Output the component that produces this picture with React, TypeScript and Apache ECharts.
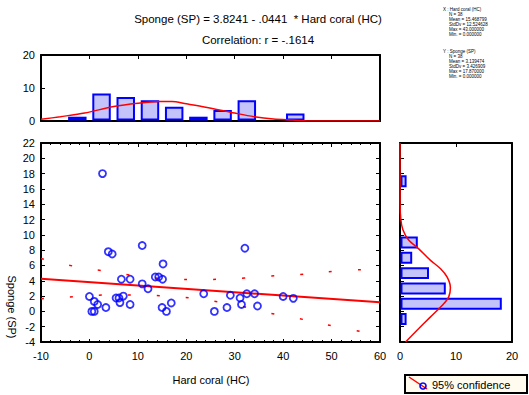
import { useEffect, useRef } from 'react';
import * as echarts from 'echarts';

const FONT = '"Liberation Sans", Arial, sans-serif';

// Scatter data: Hard coral (HC) vs Sponge (SP)
const hcValues = [2.7, 3.9, 4.7, 10.9, 15.2, 13.6, 14.3, 15.1, 6.6, 8.4, 10.9, 12.1, 0.0, 1.0, 1.7, 5.5, 6.1, 7.0, 6.3, 8.4, 3.4, 0.5, 1.0, 15.0, 15.9, 16.9, 23.6, 32.1, 25.8, 28.4, 29.1, 31.1, 31.4, 32.5, 34.1, 34.7, 40.0, 42.1];
const spValues = [18.0, 7.8, 7.5, 8.6, 6.2, 4.5, 4.5, 4.2, 4.2, 4.2, 3.6, 2.95, 1.95, 1.3, 0.9, 1.75, 1.75, 2.0, 1.15, 0.9, 0.5, 0.0, 0.0, 0.5, 0.0, 1.1, 2.3, 8.25, 0.0, 0.5, 2.1, 1.75, 0.9, 2.3, 2.3, 0.7, 1.95, 1.7];

// Regression line endpoints (Sponge = 3.8241 - .0441 * Hard coral)
const regX = [-10, 60];
const regY = [4.265, 1.178];

// 95% confidence band
const bandX = [-10, -8, -2, 4, 10, 16, 21, 27, 32, 37, 43, 49, 60];
const upperBand = [6.9, 6.6, 5.75, 5.2, 4.6, 4.25, 4.15, 4.2, 4.35, 4.6, 4.8, 5.15, 5.6];
const lowerBand = [1.65, 1.76, 1.95, 2.15, 2.15, 2.0, 1.75, 1.2, 0.6, -0.2, -0.9, -1.75, -3.1];

// Top histogram (Hard coral)
const hcBinStart = [-5, 0, 5, 10, 15, 20, 25, 30, 40];
const hcBinCount = [1, 8, 7, 6, 4, 1, 3, 6, 2];
const hcBinWidth = 5;
const hcCurveX = [-10, -6, -1, 5, 10, 14.5, 17, 20, 24, 30, 34, 38, 42, 46, 60];
const hcCurveY = [0.5, 1.3, 2.4, 4.4, 5.4, 5.9, 5.9, 5.2, 4.2, 2.4, 1.3, 0.6, 0.3, 0.0, 0.0];

// Right histogram (Sponge)
const spBinStart = [-2, 0, 2, 4, 6, 8, 16];
const spBinCount = [1, 18, 8, 5, 2, 3, 1];
const spBinWidth = 2;
const spCurveY = [-4, -2.5, -0.75, 1.0, 1.9, 3.1, 4.5, 5.6, 6.7, 8.2, 9.35, 10.7, 12, 14, 22];
const spCurveCount = [1.0, 3.0, 5.4, 7.8, 8.7, 9.0, 8.4, 7.2, 5.4, 3.3, 1.5, 0.5, 0.15, 0.02, 0.0];

const titleLine1 = 'Sponge (SP) = 3.8241 - .0441  * Hard coral (HC)';
const titleLine2 = 'Correlation: r = -.1614';
const xName = 'Hard coral (HC)';
const yName = 'Sponge (SP)';
const legendText = '95% confidence';
const statsX = ['X : Hard coral (HC)', 'N = 38', 'Mean = 15.468799', 'StdDv = 12.524628', 'Max = 43.000000', 'Min. = 0.000000'];
const statsY = ['Y : Sponge (SP)', 'N = 38', 'Mean = 3.139474', 'StdDv = 3.426909', 'Max = 17.870000', 'Min. = 0.000000'];

const BLUE = '#0000ff';
const RED = '#ff0000';
const BAR_FILL = '#c4c4fa';

function axis(extra: any) {
  return {
    type: 'value',
    splitLine: { show: false },
    axisLine: { show: true, onZero: false, lineStyle: { color: '#000', width: 2 } },
    axisTick: { show: true, inside: true, length: 4, lineStyle: { color: '#000', width: 1 } },
    axisLabel: { show: false },
    ...extra,
  };
}

const labelStyle = { show: true, fontFamily: FONT, fontSize: 11, color: '#000' };

export default function App() {
  const ref = useRef<HTMLDivElement>(null);
  useEffect(() => {
    if (!ref.current) return;
    const chart = echarts.init(ref.current, undefined, { renderer: 'svg' });

    const scatterData = hcValues.map((x, i) => [x, spValues[i]]);
    const regData = regX.map((x, i) => [x, regY[i]]);
    const upperData = bandX.map((x, i) => [x, upperBand[i]]);
    const lowerData = bandX.map((x, i) => [x, lowerBand[i]]);
    const hcHist = hcBinStart.map((s, i) => [s, s + hcBinWidth, hcBinCount[i]]);
    const hcCurve = hcCurveX.map((x, i) => [x, hcCurveY[i]]);
    const spHist = spBinStart.map((s, i) => [s, s + spBinWidth, spBinCount[i]]);
    const spCurve = spCurveY.map((y, i) => [spCurveCount[i], y]);

    const statsGraphics: any[] = [];
    const lineYs = [9, 14.2, 19.4, 24.5, 29.6, 34.7];
    statsX.forEach((t, i) => {
      statsGraphics.push({ type: 'text', x: i === 0 ? 443 : 449, y: lineYs[i], style: { text: t, fontFamily: FONT, fontSize: 4.5, fill: '#000', textVerticalAlign: 'middle' } });
    });
    statsY.forEach((t, i) => {
      statsGraphics.push({ type: 'text', x: i === 0 ? 443 : 449, y: lineYs[i] + 42, style: { text: t, fontFamily: FONT, fontSize: 4.5, fill: '#000', textVerticalAlign: 'middle' } });
    });

    const option: any = {
      animation: false,
      backgroundColor: '#fff',
      grid: [
        { left: 41, top: 143, width: 339, height: 199 },
        { left: 41, top: 55, width: 339, height: 66 },
        { left: 400, top: 143, width: 112, height: 199 },
      ],
      xAxis: [
        axis({ gridIndex: 0, position: 'bottom', min: -10, max: 60, interval: 10, axisLabel: { ...labelStyle, margin: 8 }, axisTick: { show: true, inside: true, length: 3, lineStyle: { color: '#000' } }, minorTick: { show: true, splitNumber: 5, length: 2, lineStyle: { color: '#000' } } }),
        axis({ gridIndex: 0, position: 'top', min: -10, max: 60, interval: 10, minorTick: { show: true, splitNumber: 5, length: 2, lineStyle: { color: '#000' } } }),
        axis({ gridIndex: 1, position: 'bottom', min: -10, max: 60, interval: 10, axisTick: { show: false } }),
        axis({ gridIndex: 1, position: 'top', min: -10, max: 60, interval: 10 }),
        axis({ gridIndex: 2, position: 'bottom', min: 0, max: 20, interval: 10, axisLabel: { ...labelStyle, margin: 8 }, axisTick: { show: false } }),
        axis({ gridIndex: 2, position: 'top', min: 0, max: 20, interval: 10 }),
      ],
      yAxis: [
        axis({ gridIndex: 0, position: 'left', min: -4, max: 22, interval: 2, axisLabel: { ...labelStyle, margin: 6 } }),
        axis({ gridIndex: 0, position: 'right', min: -4, max: 22, interval: 2 }),
        axis({ gridIndex: 1, position: 'left', min: 0, max: 20, interval: 10, axisLabel: { ...labelStyle, margin: 6 } }),
        axis({ gridIndex: 1, position: 'right', min: 0, max: 20, interval: 10, axisTick: { show: false } }),
        axis({ gridIndex: 2, position: 'left', min: -4, max: 22, interval: 2 }),
        axis({ gridIndex: 2, position: 'right', min: -4, max: 22, interval: 2, axisTick: { show: false } }),
      ],
      series: [
        {
          type: 'custom',
          xAxisIndex: 2,
          yAxisIndex: 2,
          clip: true,
          encode: { x: [0, 1], y: 2 },
          data: hcHist,
          renderItem: (params: any, api: any) => {
            const lo = api.value(0);
            const hi = api.value(1);
            const c = api.value(2);
            const p1 = api.coord([lo + 0.8, c]);
            const p2 = api.coord([hi - 0.8, 0]);
            return {
              type: 'rect',
              shape: { x: p1[0], y: p1[1], width: p2[0] - p1[0], height: Math.max(0.5, p2[1] - p1[1] - 1.5) },
              style: { fill: BAR_FILL, stroke: BLUE, lineWidth: 2 },
            };
          },
          z: 2,
        },
        {
          type: 'line',
          xAxisIndex: 2,
          yAxisIndex: 2,
          data: hcCurve,
          smooth: 0.3,
          symbol: 'none',
          lineStyle: { color: RED, width: 1.5 },
          z: 3,
        },
        {
          type: 'custom',
          xAxisIndex: 4,
          yAxisIndex: 4,
          clip: true,
          encode: { x: 2, y: [0, 1] },
          data: spHist,
          renderItem: (params: any, api: any) => {
            const lo = api.value(0);
            const hi = api.value(1);
            const c = api.value(2);
            const p1 = api.coord([0, hi - 0.35]);
            const p2 = api.coord([c, lo + 0.35]);
            return {
              type: 'rect',
              shape: { x: p1[0] + 1.5, y: p1[1], width: p2[0] - p1[0] - 1.5, height: p2[1] - p1[1] },
              style: { fill: BAR_FILL, stroke: BLUE, lineWidth: 2 },
            };
          },
          z: 2,
        },
        {
          type: 'line',
          xAxisIndex: 4,
          yAxisIndex: 4,
          data: spCurve,
          smooth: 0.3,
          symbol: 'none',
          lineStyle: { color: RED, width: 1.5 },
          z: 3,
        },
        {
          type: 'line',
          xAxisIndex: 0,
          yAxisIndex: 0,
          data: regData,
          symbol: 'none',
          lineStyle: { color: RED, width: 2 },
          z: 2,
        },
        {
          type: 'line',
          xAxisIndex: 0,
          yAxisIndex: 0,
          data: upperData,
          smooth: 0.4,
          symbol: 'none',
          lineStyle: { color: RED, width: 1.5, type: [3, 26] },
          z: 2,
        },
        {
          type: 'line',
          xAxisIndex: 0,
          yAxisIndex: 0,
          data: lowerData,
          smooth: 0.4,
          symbol: 'none',
          lineStyle: { color: RED, width: 1.5, type: [3, 26] },
          z: 2,
        },
        {
          type: 'scatter',
          xAxisIndex: 0,
          yAxisIndex: 0,
          data: scatterData,
          symbol: 'circle',
          symbolSize: 7,
          itemStyle: { color: 'rgba(0,0,0,0)', borderColor: BLUE, borderWidth: 1.8 },
          z: 4,
        },
      ],
      graphic: [
        { type: 'text', x: 258, y: 19, style: { text: titleLine1, fontFamily: FONT, fontSize: 11.5, fill: '#000', textAlign: 'center', textVerticalAlign: 'middle' } },
        { type: 'text', x: 258, y: 40, style: { text: titleLine2, fontFamily: FONT, fontSize: 11.5, fill: '#000', textAlign: 'center', textVerticalAlign: 'middle' } },
        { type: 'text', x: 211, y: 380, style: { text: xName, fontFamily: FONT, fontSize: 11, fill: '#000', textAlign: 'center', textVerticalAlign: 'middle' } },
        { type: 'text', x: 12, y: 307, rotation: -Math.PI / 2, style: { text: yName, fontFamily: FONT, fontSize: 11, fill: '#000', textAlign: 'center', textVerticalAlign: 'middle' } },
        ...statsGraphics,
        { type: 'rect', shape: { x: 405, y: 375, width: 122, height: 18 }, style: { fill: '#fffbee', stroke: '#000', lineWidth: 2 } },
        { type: 'line', shape: { x1: 409, y1: 377, x2: 427, y2: 389 }, style: { stroke: RED, lineWidth: 1.5 } },
        { type: 'circle', shape: { cx: 423, cy: 386, r: 3 }, style: { fill: 'none', stroke: BLUE, lineWidth: 1.6 } },
        { type: 'text', x: 432, y: 384.5, style: { text: legendText, fontFamily: FONT, fontSize: 11, fill: '#000', textVerticalAlign: 'middle' } },
      ],
    };
    chart.setOption(option);
    return () => chart.dispose();
  }, []);
  return <div ref={ref} style={{ position: 'fixed', left: 0, top: 0, width: 529, height: 395, background: '#fff' }} />;
}
